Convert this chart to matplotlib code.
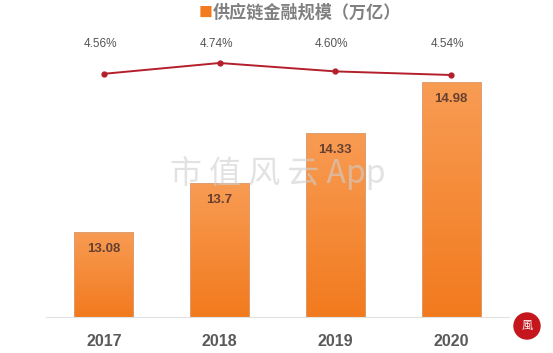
import numpy as np
import matplotlib
matplotlib.use("Agg")
import matplotlib.pyplot as plt
from matplotlib.colors import LinearSegmentedColormap
from matplotlib.patches import Circle
from matplotlib.transforms import IdentityTransform

plt.rcParams['font.family'] = ['Noto Sans CJK SC', 'DejaVu Sans']

# data
years = ['2017', '2018', '2019', '2020']
scale = [13.08, 13.7, 14.33, 14.98]          # 供应链金融规模（万亿）
scale_labels = ['13.08', '13.7', '14.33', '14.98']
ratio = [4.56, 4.74, 4.60, 4.54]              # %
legend_label = '供应链金融规模（万亿）'

W, H = 553, 353
fig = plt.figure(figsize=(W / 100, H / 100), dpi=100)
fig.patch.set_facecolor('white')

# axes: x 46..509 px, y 317 (bottom) .. 0 (top)
ax = fig.add_axes([46 / W, (H - 317) / H, (509 - 46) / W, 317 / H])
ax.set_xlim(-0.5, 3.5)
ax.set_ylim(12, 12 + 317 / 79)

x = np.arange(len(years))
bars = ax.bar(x, scale, width=0.51, bottom=0, color='none',
              edgecolor='#d9a07a', linewidth=0.6, zorder=2)

# gradient fill for bars
cmap = LinearSegmentedColormap.from_list('og', ['#f27a1e', '#f89c54'])
grad = np.linspace(0, 1, 256).reshape(-1, 1)
for b in bars:
    x0, w, h = b.get_x(), b.get_width(), b.get_height()
    im = ax.imshow(grad, cmap=cmap, aspect='auto', origin='lower',
                   extent=[x0, x0 + w, 12, h], zorder=1)
    im.set_clip_path(b)

for xi, v, lab in zip(x, scale, scale_labels):
    ax.text(xi, v - 0.22, lab, ha='center', va='center', fontsize=9.5,
            color='#674030', fontweight='bold', family=['Liberation Sans', 'DejaVu Sans'])

for s in ['top', 'right', 'left']:
    ax.spines[s].set_visible(False)
ax.spines['bottom'].set_color('#e2e2e2')
ax.spines['bottom'].set_linewidth(0.8)
ax.set_yticks([])
ax.set_xticks(x)
ax.set_xticklabels(years, fontsize=11.5, color='#5a5a5a', fontweight='bold',
                   family=['Liberation Sans', 'DejaVu Sans'])
ax.tick_params(axis='x', length=0, pad=12)

# secondary axis for ratio line
ax2 = ax.twinx()
ax2.set_ylim(4.54 - (317 - 75) / 60, 4.54 + 75 / 60)
ax2.plot(x, ratio, color='#b41f2b', lw=1.4, marker='o', markersize=3.5, zorder=5)
ax2.axis('off')
for xi, r in zip(x, ratio):
    ax2.text(xi - 0.03, 4.54 + 31 / 60, f'{r:.2f}%', ha='center', va='center',
             fontsize=8.5, color='#555555', family=['Liberation Sans', 'DejaVu Sans'])

# legend at top
fig.text(206 / W, 1 - 13 / H, '■', color='#f37a1e', fontsize=10, ha='center', va='center')
fig.text(213 / W, 1 - 13 / H, legend_label, color='#808080', fontsize=12.3,
         ha='left', va='center', fontweight='bold')

# watermark
fig.text(278 / W, 1 - 173 / H, '市 值 风 云 App', color='#cfcfcf', alpha=0.6,
         fontsize=23, ha='center', va='center', zorder=10)

# logo stamp (pixel coordinates so it stays round)
logo = Circle((527, H - 326), 13, transform=IdentityTransform(),
              color='#c4161c', zorder=10)
fig.patches.append(logo)
fig.text(527 / W, 1 - 326 / H, '風', color='white', fontsize=8,
         ha='center', va='center', zorder=11)

fig.savefig('out.png', dpi=100)
